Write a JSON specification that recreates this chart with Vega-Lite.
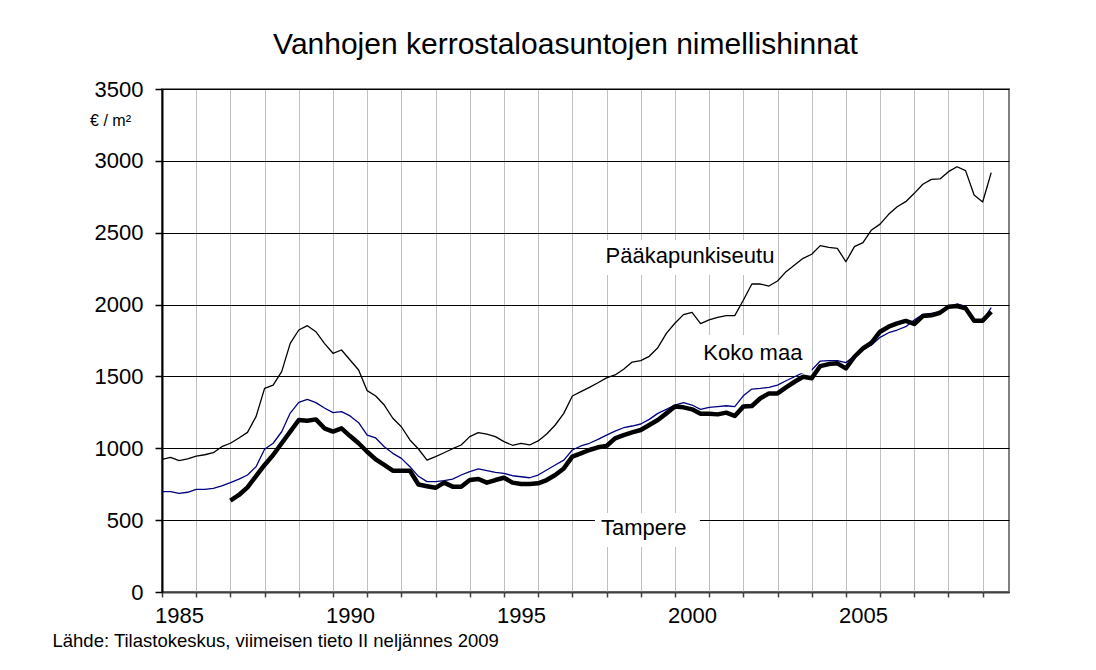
{
  "$schema": "https://vega.github.io/schema/vega-lite/v6.json",
  "width": 847,
  "height": 503,
  "autosize": {"type": "none"},
  "padding": {"left": 162, "top": 89, "right": 87, "bottom": 78},
  "background": "white",
  "config": {
    "view": {"stroke": "#808080", "strokeWidth": 2},
    "font": "Liberation Sans"
  },
  "title": {
    "text": "Vanhojen kerrostaloasuntojen nimellishinnat",
    "font": "Liberation Sans",
    "fontSize": 30,
    "fontWeight": "normal",
    "color": "black",
    "anchor": "middle",
    "dx": -20,
    "offset": 18
  },
  "datasets": {
    "pk": [
      {"t":1985,"v":923},{"t":1985.25,"v":937},{"t":1985.5,"v":914},{"t":1985.75,"v":927},
      {"t":1986,"v":946},{"t":1986.25,"v":955},{"t":1986.5,"v":969},{"t":1986.75,"v":1011},
      {"t":1987,"v":1035},{"t":1987.25,"v":1072},{"t":1987.5,"v":1111},{"t":1987.75,"v":1220},
      {"t":1988,"v":1417},{"t":1988.25,"v":1440},{"t":1988.5,"v":1533},{"t":1988.75,"v":1730},
      {"t":1989,"v":1823},{"t":1989.25,"v":1853},{"t":1989.5,"v":1811},{"t":1989.75,"v":1730},
      {"t":1990,"v":1661},{"t":1990.25,"v":1684},{"t":1990.5,"v":1614},{"t":1990.75,"v":1545},
      {"t":1991,"v":1401},{"t":1991.25,"v":1364},{"t":1991.5,"v":1301},{"t":1991.75,"v":1209},
      {"t":1992,"v":1150},{"t":1992.25,"v":1058},{"t":1992.5,"v":995},{"t":1992.75,"v":918},
      {"t":1993,"v":942},{"t":1993.25,"v":969},{"t":1993.5,"v":997},{"t":1993.75,"v":1023},
      {"t":1994,"v":1081},{"t":1994.25,"v":1109},{"t":1994.5,"v":1099},{"t":1994.75,"v":1081},
      {"t":1995,"v":1046},{"t":1995.25,"v":1021},{"t":1995.5,"v":1034},{"t":1995.75,"v":1023},
      {"t":1996,"v":1051},{"t":1996.25,"v":1099},{"t":1996.5,"v":1162},{"t":1996.75,"v":1243},
      {"t":1997,"v":1364},{"t":1997.25,"v":1394},{"t":1997.5,"v":1424},{"t":1997.75,"v":1456},
      {"t":1998,"v":1490},{"t":1998.25,"v":1510},{"t":1998.5,"v":1550},{"t":1998.75,"v":1600},
      {"t":1999,"v":1610},{"t":1999.25,"v":1640},{"t":1999.5,"v":1700},{"t":1999.75,"v":1800},
      {"t":2000,"v":1870},{"t":2000.25,"v":1930},{"t":2000.5,"v":1945},{"t":2000.75,"v":1867},
      {"t":2001,"v":1893},{"t":2001.25,"v":1911},{"t":2001.5,"v":1923},{"t":2001.75,"v":1923},
      {"t":2002,"v":2030},{"t":2002.25,"v":2143},{"t":2002.5,"v":2143},{"t":2002.75,"v":2129},
      {"t":2003,"v":2164},{"t":2003.25,"v":2229},{"t":2003.5,"v":2275},{"t":2003.75,"v":2322},
      {"t":2004,"v":2350},{"t":2004.25,"v":2410},{"t":2004.5,"v":2398},{"t":2004.75,"v":2391},
      {"t":2005,"v":2298},{"t":2005.25,"v":2403},{"t":2005.5,"v":2431},{"t":2005.75,"v":2519},
      {"t":2006,"v":2560},{"t":2006.25,"v":2628},{"t":2006.5,"v":2681},{"t":2006.75,"v":2716},
      {"t":2007,"v":2774},{"t":2007.25,"v":2837},{"t":2007.5,"v":2871},{"t":2007.75,"v":2874},
      {"t":2008,"v":2925},{"t":2008.25,"v":2959},{"t":2008.5,"v":2932},{"t":2008.75,"v":2762},
      {"t":2009,"v":2714},{"t":2009.25,"v":2918}
    ],
    "km": [
      {"t":1985,"v":698},{"t":1985.25,"v":698},{"t":1985.5,"v":686},{"t":1985.75,"v":694},
      {"t":1986,"v":714},{"t":1986.25,"v":714},{"t":1986.5,"v":721},{"t":1986.75,"v":738},
      {"t":1987,"v":761},{"t":1987.25,"v":786},{"t":1987.5,"v":814},{"t":1987.75,"v":872},
      {"t":1988,"v":993},{"t":1988.25,"v":1035},{"t":1988.5,"v":1115},{"t":1988.75,"v":1245},
      {"t":1989,"v":1320},{"t":1989.25,"v":1340},{"t":1989.5,"v":1318},{"t":1989.75,"v":1280},
      {"t":1990,"v":1248},{"t":1990.25,"v":1255},{"t":1990.5,"v":1225},{"t":1990.75,"v":1178},
      {"t":1991,"v":1092},{"t":1991.25,"v":1072},{"t":1991.5,"v":1011},{"t":1991.75,"v":965},
      {"t":1992,"v":930},{"t":1992.25,"v":872},{"t":1992.5,"v":805},{"t":1992.75,"v":768},
      {"t":1993,"v":768},{"t":1993.25,"v":775},{"t":1993.5,"v":786},{"t":1993.75,"v":814},
      {"t":1994,"v":837},{"t":1994.25,"v":856},{"t":1994.5,"v":844},{"t":1994.75,"v":833},
      {"t":1995,"v":826},{"t":1995.25,"v":809},{"t":1995.5,"v":802},{"t":1995.75,"v":795},
      {"t":1996,"v":814},{"t":1996.25,"v":849},{"t":1996.5,"v":884},{"t":1996.75,"v":918},
      {"t":1997,"v":988},{"t":1997.25,"v":1016},{"t":1997.5,"v":1035},{"t":1997.75,"v":1062},
      {"t":1998,"v":1092},{"t":1998.25,"v":1120},{"t":1998.5,"v":1143},{"t":1998.75,"v":1155},
      {"t":1999,"v":1169},{"t":1999.25,"v":1201},{"t":1999.5,"v":1243},{"t":1999.75,"v":1271},
      {"t":2000,"v":1301},{"t":2000.25,"v":1317},{"t":2000.5,"v":1301},{"t":2000.75,"v":1271},
      {"t":2001,"v":1285},{"t":2001.25,"v":1290},{"t":2001.5,"v":1296},{"t":2001.75,"v":1290},
      {"t":2002,"v":1365},{"t":2002.25,"v":1412},{"t":2002.5,"v":1417},{"t":2002.75,"v":1424},
      {"t":2003,"v":1440},{"t":2003.25,"v":1470},{"t":2003.5,"v":1498},{"t":2003.75,"v":1526},
      {"t":2004,"v":1545},{"t":2004.25,"v":1607},{"t":2004.5,"v":1610},{"t":2004.75,"v":1610},
      {"t":2005,"v":1596},{"t":2005.25,"v":1642},{"t":2005.5,"v":1684},{"t":2005.75,"v":1719},
      {"t":2006,"v":1772},{"t":2006.25,"v":1804},{"t":2006.5,"v":1823},{"t":2006.75,"v":1846},
      {"t":2007,"v":1893},{"t":2007.25,"v":1932},{"t":2007.5,"v":1939},{"t":2007.75,"v":1946},
      {"t":2008,"v":1981},{"t":2008.25,"v":2004},{"t":2008.5,"v":1988},{"t":2008.75,"v":1892},
      {"t":2009,"v":1890},{"t":2009.25,"v":1978}
    ],
    "ta": [
      {"t":1987,"v":636},{"t":1987.25,"v":675},{"t":1987.5,"v":728},{"t":1987.75,"v":807},
      {"t":1988,"v":884},{"t":1988.25,"v":953},{"t":1988.5,"v":1035},{"t":1988.75,"v":1116},
      {"t":1989,"v":1197},{"t":1989.25,"v":1192},{"t":1989.5,"v":1201},{"t":1989.75,"v":1139},
      {"t":1990,"v":1116},{"t":1990.25,"v":1139},{"t":1990.5,"v":1085},{"t":1990.75,"v":1035},
      {"t":1991,"v":976},{"t":1991.25,"v":923},{"t":1991.5,"v":884},{"t":1991.75,"v":844},
      {"t":1992,"v":844},{"t":1992.25,"v":844},{"t":1992.5,"v":748},{"t":1992.75,"v":736},
      {"t":1993,"v":725},{"t":1993.25,"v":761},{"t":1993.5,"v":733},{"t":1993.75,"v":733},
      {"t":1994,"v":779},{"t":1994.25,"v":786},{"t":1994.5,"v":761},{"t":1994.75,"v":779},
      {"t":1995,"v":795},{"t":1995.25,"v":761},{"t":1995.5,"v":751},{"t":1995.75,"v":751},
      {"t":1996,"v":756},{"t":1996.25,"v":779},{"t":1996.5,"v":814},{"t":1996.75,"v":860},
      {"t":1997,"v":942},{"t":1997.25,"v":965},{"t":1997.5,"v":988},{"t":1997.75,"v":1007},
      {"t":1998,"v":1016},{"t":1998.25,"v":1069},{"t":1998.5,"v":1092},{"t":1998.75,"v":1111},
      {"t":1999,"v":1127},{"t":1999.25,"v":1162},{"t":1999.5,"v":1197},{"t":1999.75,"v":1243},
      {"t":2000,"v":1290},{"t":2000.25,"v":1285},{"t":2000.5,"v":1271},{"t":2000.75,"v":1241},
      {"t":2001,"v":1241},{"t":2001.25,"v":1236},{"t":2001.5,"v":1248},{"t":2001.75,"v":1225},
      {"t":2002,"v":1290},{"t":2002.25,"v":1294},{"t":2002.5,"v":1348},{"t":2002.75,"v":1382},
      {"t":2003,"v":1382},{"t":2003.25,"v":1424},{"t":2003.5,"v":1463},{"t":2003.75,"v":1498},
      {"t":2004,"v":1487},{"t":2004.25,"v":1572},{"t":2004.5,"v":1586},{"t":2004.75,"v":1591},
      {"t":2005,"v":1556},{"t":2005.25,"v":1637},{"t":2005.5,"v":1695},{"t":2005.75,"v":1735},
      {"t":2006,"v":1811},{"t":2006.25,"v":1846},{"t":2006.5,"v":1869},{"t":2006.75,"v":1886},
      {"t":2007,"v":1865},{"t":2007.25,"v":1920},{"t":2007.5,"v":1925},{"t":2007.75,"v":1943},
      {"t":2008,"v":1985},{"t":2008.25,"v":1990},{"t":2008.5,"v":1974},{"t":2008.75,"v":1888},
      {"t":2009,"v":1888},{"t":2009.25,"v":1950}
    ],
    "boxes": [
      {"t":1997.81,"t2":2003.01,"v":2206,"v2":2449},
      {"t":2000.67,"t2":2004.0,"v":1522,"v2":1788},
      {"t":1997.66,"t2":2000.73,"v":313,"v2":550}
    ],
    "labels": [
      {"t":2000.44,"v":2287,"label":"Pääkapunkiseutu"},
      {"t":2002.28,"v":1614,"label":"Koko maa"},
      {"t":1999.09,"v":394,"label":"Tampere"}
    ]
  },
  "encoding": {
    "x": {
      "field": "t",
      "type": "quantitative",
      "scale": {"domain": [1985, 2009.77], "nice": false, "zero": false},
      "axis": {
        "values": [1985,1986,1987,1988,1989,1990,1991,1992,1993,1994,1995,1996,1997,1998,1999,2000,2001,2002,2003,2004,2005,2006,2007,2008,2009],
        "grid": true,
        "gridColor": "#c0c0c0",
        "gridWidth": 1,
        "domainColor": "#404040",
        "domainWidth": 2,
        "tickColor": "#404040",
        "tickSize": 5,
        "tickWidth": 1.5,
        "labelExpr": "datum.value % 5 == 0 ? '' + datum.value : ''",
        "labelOffset": 17,
        "labelFlush": false,
        "labelOverlap": false,
        "labelFont": "Liberation Sans",
        "labelFontSize": 22,
        "labelColor": "black",
        "labelPadding": 8,
        "title": "Lähde: Tilastokeskus, viimeisen tieto II neljännes 2009",
        "titleX": -110,
        "titleY": 54,
        "titleAlign": "left",
        "titleAnchor": "start",
        "titleBaseline": "alphabetic",
        "titleFont": "Liberation Sans",
        "titleFontSize": 18.5,
        "titleFontWeight": "normal",
        "titleColor": "black"
      }
    },
    "y": {
      "field": "v",
      "type": "quantitative",
      "scale": {"domain": [0, 3500], "nice": false, "zero": true},
      "axis": {
        "values": [0,500,1000,1500,2000,2500,3000,3500],
        "grid": true,
        "gridColor": "black",
        "gridWidth": 1,
        "domainColor": "black",
        "domainWidth": 2,
        "tickColor": "black",
        "tickSize": 7,
        "tickWidth": 1.5,
        "labelFont": "Liberation Sans",
        "labelFontSize": 22,
        "labelColor": "black",
        "labelPadding": 12,
        "format": "d",
        "title": "€ / m²",
        "titleAngle": 0,
        "titleX": -52,
        "titleY": 36,
        "titleAlign": "center",
        "titleBaseline": "alphabetic",
        "titleFont": "Liberation Sans",
        "titleFontSize": 16,
        "titleFontWeight": "normal",
        "titleColor": "black"
      }
    }
  },
  "layer": [
    {"data": {"name": "pk"}, "mark": {"type": "line", "color": "black", "strokeWidth": 1.3, "strokeJoin": "round"}},
    {"data": {"name": "km"}, "mark": {"type": "line", "color": "#000080", "strokeWidth": 1.3, "strokeJoin": "round"}},
    {"data": {"name": "ta"}, "mark": {"type": "line", "color": "black", "strokeWidth": 4.5, "strokeJoin": "round"}},
    {
      "data": {"name": "boxes"},
      "mark": {"type": "rect", "fill": "white", "stroke": null},
      "encoding": {"x2": {"field": "t2"}, "y2": {"field": "v2"}}
    },
    {
      "data": {"name": "labels"},
      "mark": {"type": "text", "font": "Liberation Sans", "fontSize": 22, "align": "center", "baseline": "alphabetic", "color": "black"},
      "encoding": {"text": {"field": "label", "type": "nominal"}}
    }
  ]
}
